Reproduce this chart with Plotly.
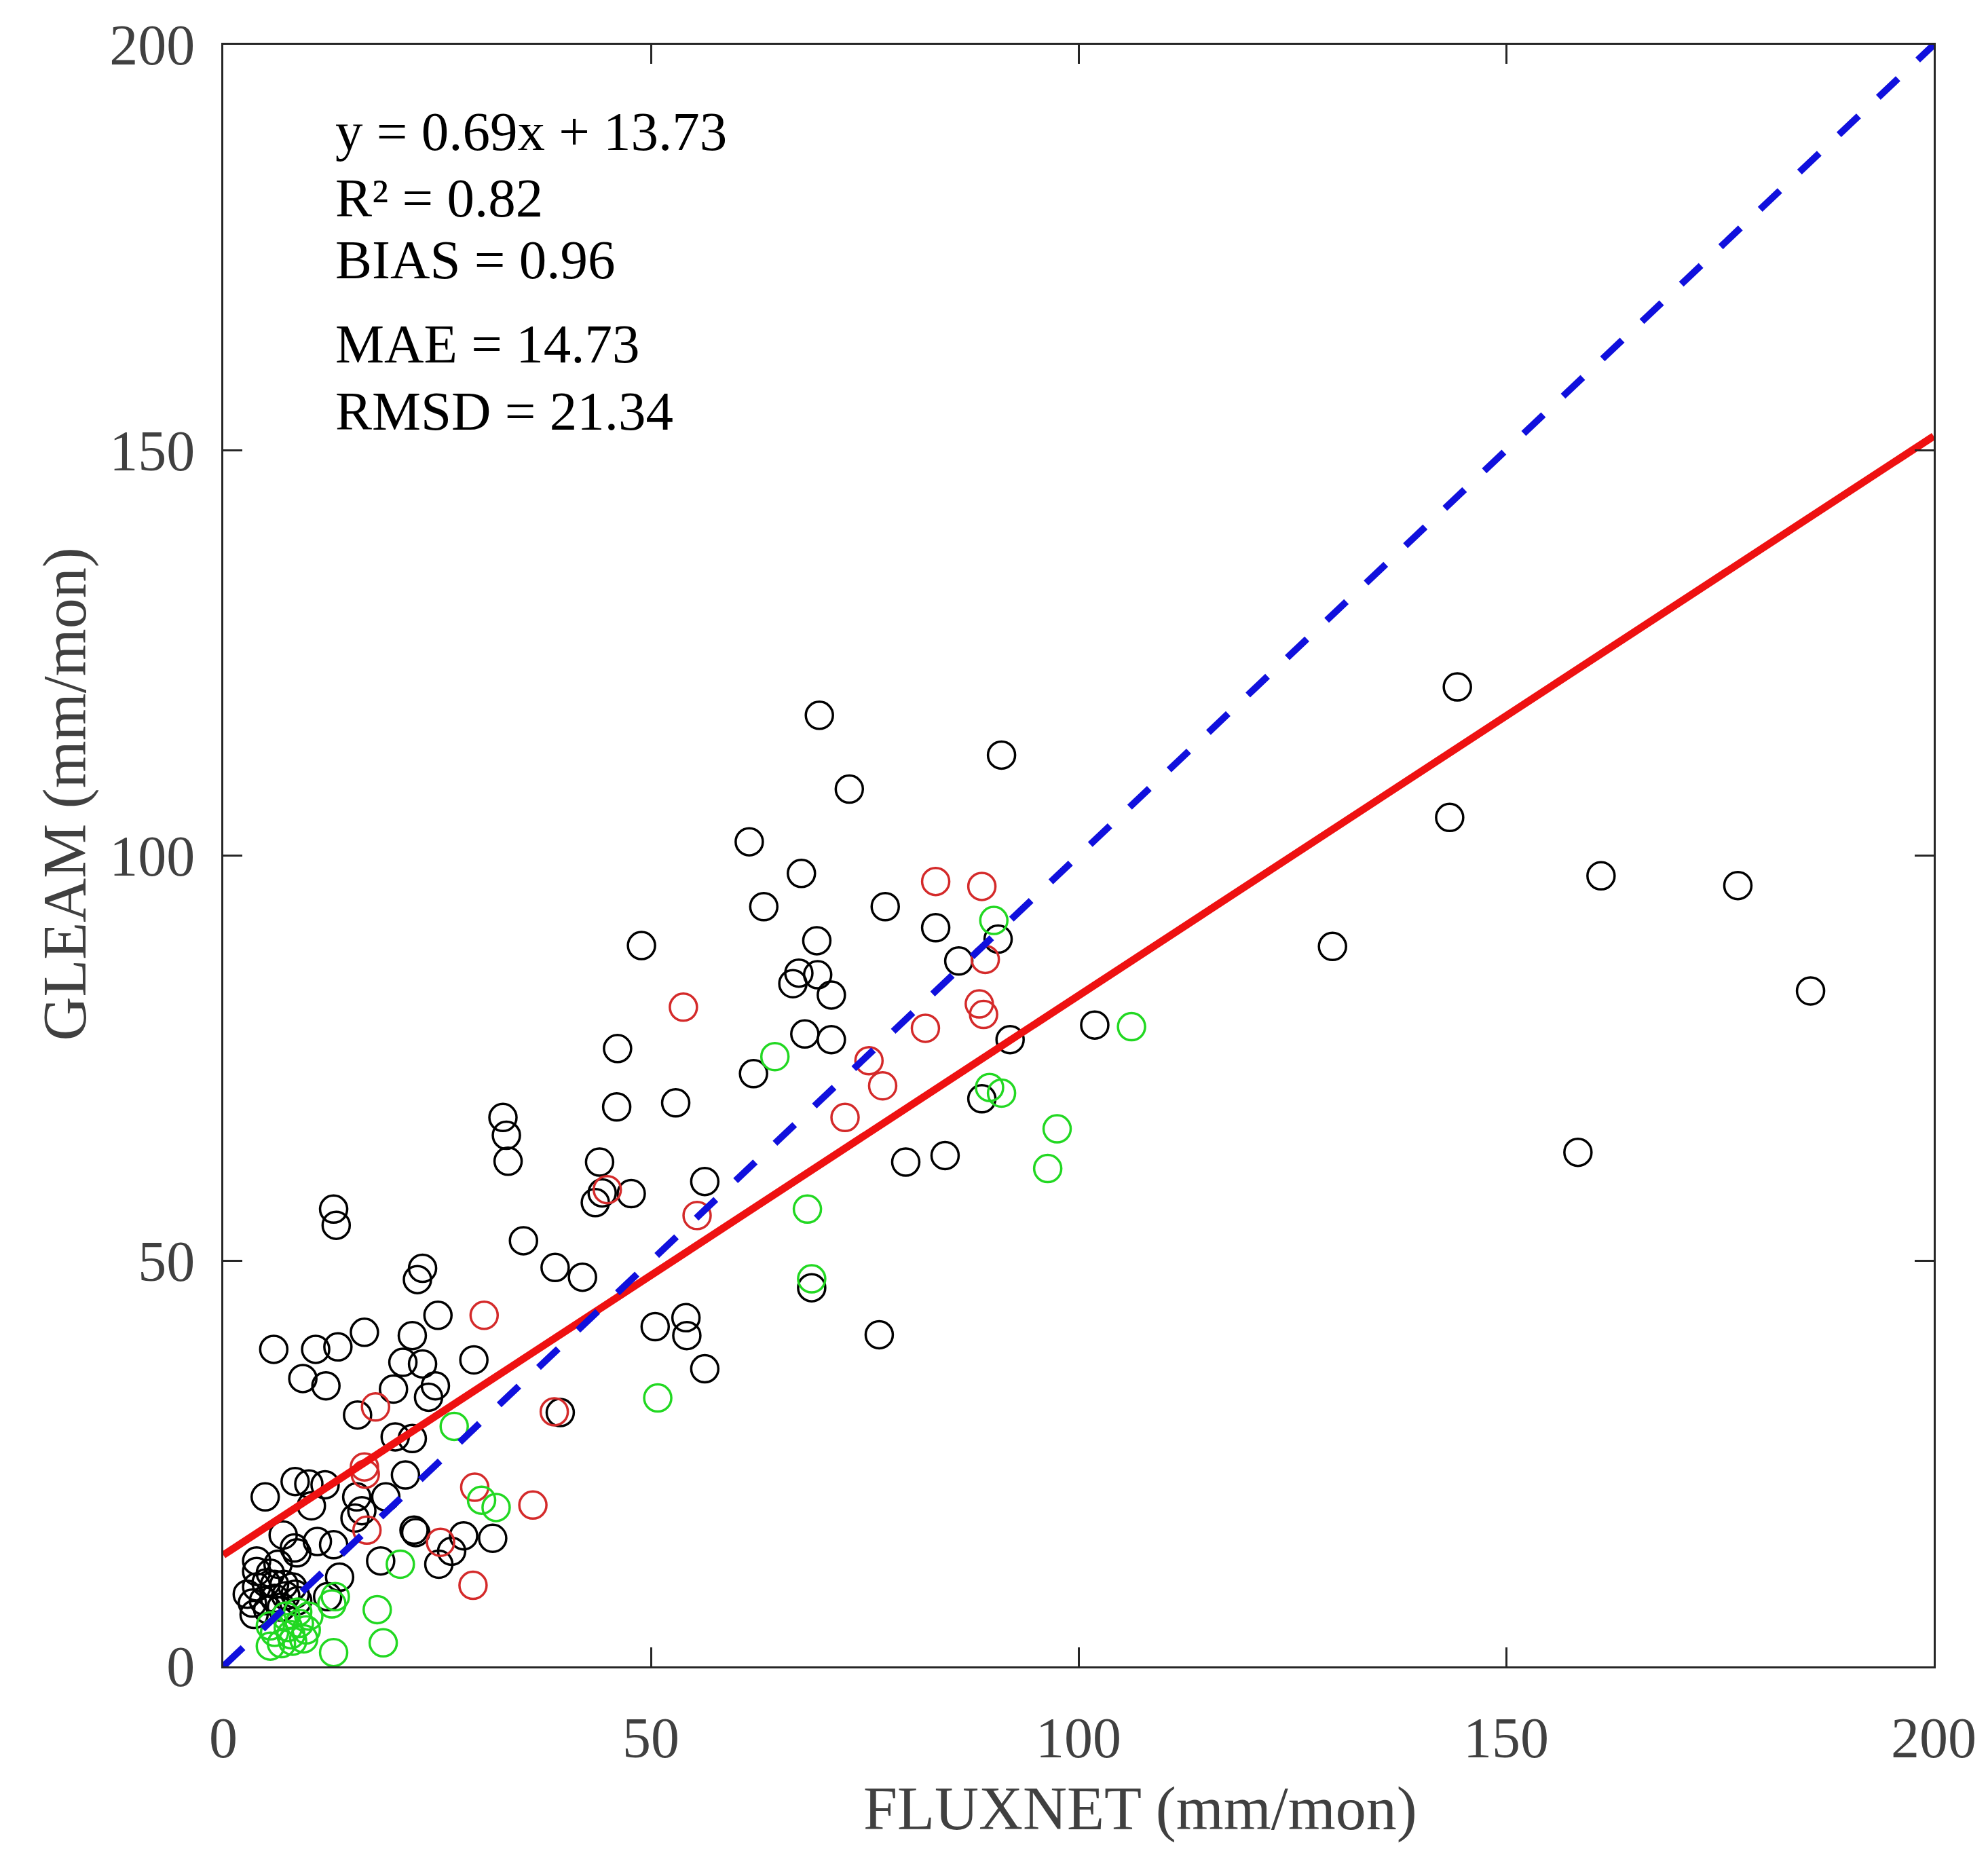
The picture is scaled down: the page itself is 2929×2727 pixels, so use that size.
import plotly.graph_objects as go

# FLUXNET vs GLEAM monthly ET (mm/mon)
black_x = [144.3, 69.7, 91.0, 73.2, 143.4, 61.5, 161.1, 67.6, 177.1, 63.2,
           77.4, 83.3, 48.9, 69.4, 90.6, 129.7, 86.0, 67.3, 66.6, 69.5,
           71.1, 185.6, 101.9, 68.0, 71.1, 92.0, 46.1, 62.0, 52.9, 46.0,
           88.7, 32.7, 33.1, 33.3, 79.8, 84.4, 158.4, 44.0, 56.3, 47.7,
           44.3, 43.5, 12.9, 13.2, 35.1, 23.3, 22.7, 38.8, 42.0, 68.8,
           25.1, 54.1, 50.5, 54.2, 22.1, 16.5, 76.7, 5.9, 10.8, 13.4,
           56.3, 21.0, 23.3, 29.3, 9.3, 12.0, 19.9, 24.8, 24.0, 15.7,
           39.4, 20.1, 22.1, 21.3, 8.4, 10.0, 11.9, 4.9, 15.6, 19.0,
           10.3, 16.2, 15.4, 7.0, 8.3, 8.6, 11.0, 12.9, 22.3, 22.5,
           28.1, 31.5, 26.7, 18.4, 25.2, 3.9, 6.4, 13.6, 12.2,
           2.8, 3.9, 5.0, 6.0, 7.1, 8.1, 3.4, 4.7, 6.0, 7.3,
           8.4, 3.6, 5.2, 6.8, 8.7, 3.9, 5.5]
black_y = [120.8, 117.3, 112.4, 108.2, 104.7, 101.7, 97.5, 97.8, 96.3, 93.7,
           93.7, 91.1, 88.9, 89.5, 89.7, 88.8, 87.0, 85.5, 84.2, 85.3,
           82.8, 83.3, 79.1, 78.0, 77.3, 77.3, 76.2, 73.1, 69.5, 69.0,
           70.0, 67.7, 65.5, 62.3, 62.2, 63.0, 63.4, 62.2, 59.8, 58.3,
           58.4, 57.2, 56.4, 54.4, 52.5, 49.1, 47.7, 49.2, 48.0, 46.7,
           43.3, 43.0, 41.9, 40.8, 40.8, 41.2, 40.9, 39.1, 39.1, 39.4,
           36.7, 37.5, 37.3, 37.8, 35.5, 34.6, 34.2, 34.6, 33.2, 31.0,
           31.3, 28.3, 28.1, 23.6, 22.8, 22.5, 22.4, 20.9, 20.9, 20.9,
           19.8, 19.2, 18.3, 16.2, 14.6, 14.0, 15.4, 15.0, 16.8, 16.5,
           16.1, 15.8, 14.2, 13.0, 12.6, 13.0, 12.6, 11.0, 8.6,
           8.9, 9.8, 10.3, 10.1, 10.1, 9.8, 7.8, 8.1, 8.4, 8.7,
           8.9, 6.4, 7.0, 7.3, 8.1, 11.7, 11.5]

red_x = [83.3, 88.7, 89.1, 53.8, 88.4, 88.9, 82.1, 75.5, 77.1, 72.7,
         44.9, 55.4, 30.5, 17.8, 38.7, 16.5, 16.6, 29.4, 36.2, 16.8,
         25.4, 29.2]
red_y = [96.8, 96.2, 87.2, 81.3, 81.7, 80.4, 78.7, 74.7, 71.6, 67.7,
         58.8, 55.6, 43.3, 32.0, 31.4, 24.6, 23.7, 22.1, 19.9, 16.8,
         15.3, 10.0]

green_x = [90.1, 64.5, 106.2, 89.6, 91.0, 97.5, 96.4, 68.3, 68.8, 50.8,
           27.0, 30.2, 31.9, 20.7, 18.0, 18.7, 12.9, 13.1, 12.7,
           5.5, 6.8, 8.1, 9.4, 6.0, 7.6, 8.9, 10.0, 7.3, 8.7,
           5.5, 9.7, 7.9]
green_y = [92.0, 75.2, 78.9, 71.4, 70.7, 66.3, 61.4, 56.4, 47.8, 33.1,
           29.6, 20.5, 19.6, 12.6, 7.0, 2.9, 1.7, 8.6, 7.7,
           2.5, 2.8, 3.1, 3.4, 4.2, 4.8, 5.3, 6.2, 6.2, 6.7,
           5.0, 4.5, 3.9]

# regression and 1:1 reference lines
line_x = [0, 200]
fit_slope, fit_intercept = 0.69, 13.73
stats_text = ["y = 0.69x + 13.73", "R² = 0.82", "BIAS = 0.96",
              "MAE = 14.73", "RMSD = 21.34"]
stats_y = [189.3, 181.1, 173.5, 163.1, 154.8]
tick_vals = [0, 50, 100, 150, 200]

FONT = "Liberation Serif, Times New Roman, serif"
GREY = "#404040"

fig = go.Figure()

for xs, ys, col in [(black_x, black_y, "#000000"),
                    (red_x, red_y, "#d42a2a"),
                    (green_x, green_y, "#22d822")]:
    fig.add_trace(go.Scatter(
        x=xs, y=ys, mode="markers",
        marker=dict(symbol="circle-open", size=40, color=col,
                    line=dict(width=3.5, color=col)),
        showlegend=False,
    ))

fig.add_trace(go.Scatter(
    x=line_x, y=[fit_slope * v + fit_intercept for v in line_x],
    mode="lines", line=dict(color="#ee1111", width=11), showlegend=False,
))
fig.add_trace(go.Scatter(
    x=line_x, y=line_x, mode="lines",
    line=dict(color="#1010dd", width=10, dash="40px,40px"), showlegend=False,
))

for txt, yy in zip(stats_text, stats_y):
    fig.add_annotation(x=12.9, y=yy, xref="x", yref="y", text=txt,
                       showarrow=False, xanchor="left", yanchor="middle",
                       font=dict(family=FONT, size=81, color="#000000"))

# axis titles placed as annotations (slightly off-centre in the original)
fig.add_annotation(x=0.536, y=-0.088, xref="paper", yref="paper",
                   text="FLUXNET (mm/mon)", showarrow=False,
                   xanchor="center", yanchor="middle",
                   font=dict(family=FONT, size=90, color=GREY))
fig.add_annotation(x=-0.0925, y=0.538, xref="paper", yref="paper",
                   text="GLEAM (mm/mon)", showarrow=False, textangle=-90,
                   xanchor="center", yanchor="middle",
                   font=dict(family=FONT, size=90, color=GREY))

axis_style = dict(
    range=[0, 200], tickvals=tick_vals, showgrid=False, zeroline=False,
    showline=True, linecolor="#262626", linewidth=3, mirror="allticks",
    ticks="inside", ticklen=28, tickwidth=3, tickcolor="#262626",
    tickfont=dict(family=FONT, size=84, color=GREY),
)
fig.update_xaxes(**axis_style, ticklabelstandoff=30)
fig.update_yaxes(**axis_style, ticklabelstandoff=22)

fig.update_layout(
    width=2929, height=2727,
    margin=dict(l=321, r=88, t=53, b=280),
    plot_bgcolor="white", paper_bgcolor="white",
)

fig.write_html("out.html")
